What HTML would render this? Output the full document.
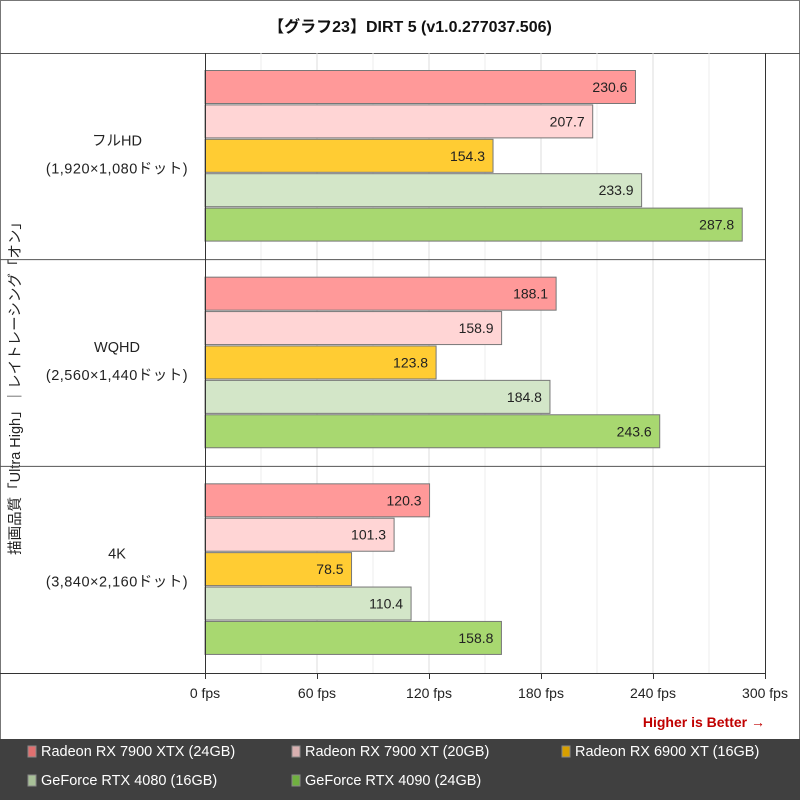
<!DOCTYPE html>
<html><head><meta charset="utf-8"><style>
body{margin:0;width:800px;height:800px;overflow:hidden;background:#fff;font-family:"Liberation Sans","Noto Sans CJK JP",sans-serif;}
</style></head><body>
<svg id="c" width="800" height="800" xmlns="http://www.w3.org/2000/svg">
<rect x="0.5" y="0.5" width="799" height="799" fill="#fff" stroke="#777"/>
<text x="410" y="32" text-anchor="middle" font-size="16" font-weight="bold" fill="#111">【グラフ23】DIRT 5 (v1.0.277037.506)</text>
<line x1="0" y1="53.5" x2="800" y2="53.5" stroke="#555"/>
<rect x="0" y="739" width="800" height="61" fill="#404040"/>
<text transform="translate(20,385) rotate(-90)" text-anchor="middle" font-size="14.5" fill="#222">描画品質「Ultra High」｜レイトレーシング「オン」</text>
<text x="765" y="727" text-anchor="end" font-size="14" font-weight="bold" fill="#c00000">Higher is Better →</text>
<g id="plot"></g>
</svg>
<script>
const categories=["フルHD","WQHD","4K"];
const subLabels=["(1,920×1,080ドット)","(2,560×1,440ドット)","(3,840×2,160ドット)"];
const seriesNames=["Radeon RX 7900 XTX (24GB)","Radeon RX 7900 XT (20GB)","Radeon RX 6900 XT (16GB)","GeForce RTX 4080 (16GB)","GeForce RTX 4090 (24GB)"];
const s7900xtx=[230.6,188.1,120.3];
const s7900xt=[207.7,158.9,101.3];
const s6900xt=[154.3,123.8,78.5];
const s4080=[233.9,184.8,110.4];
const s4090=[287.8,243.6,158.8];
const ticks=[0,60,120,180,240,300];
const series=[s7900xtx,s7900xt,s6900xt,s4080,s4090];
const colors=["#ff9999","#ffd5d5","#ffcc33","#d3e6c8","#a8d870"];
const legendColors=["#e07070","#d8b0b0","#d8a000","#a8c098","#70b040"];
const NS="http://www.w3.org/2000/svg";
const X0=205,X1=765,Y0=53,Y1=673,xMax=300;
const x=v=>X0+(X1-X0)*v/xMax;
const gh=(Y1-Y0)/categories.length;
const g=document.getElementById('plot');
function mk(t,a,txt){const e=document.createElementNS(NS,t);for(const k in a)e.setAttribute(k,a[k]);if(txt!==undefined)e.textContent=txt;g.appendChild(e);return e;}
for(let v=30;v<xMax;v+=30){
 const e=mk('line',{x1:x(v),x2:x(v),y1:Y0,y2:Y1,stroke:v%60?'#eee':'#ddd'});
 
 
}
categories.forEach((c,i)=>{
 const gy=Y0+gh*i;
 if(i>0){const l=mk('line',{x1:0,x2:X1,y1:gy,y2:gy,stroke:'#555'});
 
 }
 const t=mk('text',{x:117,y:gy+gh/2-11,'text-anchor':'middle','font-size':14.5,fill:'#222'},c);
 
 
 const t2=mk('text',{x:117,y:gy+gh/2+17,'text-anchor':'middle','font-size':14.5,'letter-spacing':'0.5',fill:'#222'},subLabels[i]);
 
 
 series.forEach((s,j)=>{
  const by=gy+17.5+j*34.4;
  const r=mk('rect',{x:X0,y:by,width:x(s[i])-X0,height:33,fill:colors[j],stroke:'#777'});
  
  
  const vt=mk('text',{x:x(s[i])-8,y:by+21.5,'text-anchor':'end','font-size':14,fill:'#222'},s[i].toFixed(1));
  
  
 });
});
const ya=mk('line',{x1:X0+.5,x2:X0+.5,y1:Y0,y2:Y1+6,stroke:'#333'});


const xr=mk('line',{x1:X1+.5,x2:X1+.5,y1:Y0,y2:Y1+6,stroke:'#333'});


const xa=mk('line',{x1:0,x2:X1,y1:Y1+.5,y2:Y1+.5,stroke:'#333'});


ticks.forEach(v=>{
 const l=mk('line',{x1:x(v)+.5,x2:x(v)+.5,y1:Y1,y2:Y1+6,stroke:'#333'});
 
 
 const t=mk('text',{x:x(v),y:Y1+25,'text-anchor':'middle','font-size':14,fill:'#222'},v+' fps');
 
 
});
seriesNames.forEach((n,j)=>{
 const lx=[28,292,562][j%3], ly=j<3?752:781;
 const r=mk('rect',{x:lx,y:ly-6,width:8,height:11,fill:legendColors[j],stroke:'#888'});
 
 
 const t=mk('text',{x:lx+13,y:ly+4,'font-size':14.5,fill:'#fff'},n);
 
 
});
</script>
</body></html>
